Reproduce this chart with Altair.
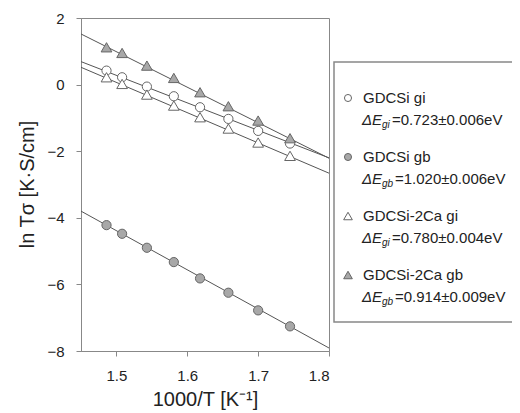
import altair as alt
import pandas as pd

# ---- data ----
x_vals = [1.486, 1.508, 1.543, 1.581, 1.618, 1.658, 1.700, 1.745]
gdcsi_gi = [0.42, 0.22, -0.06, -0.35, -0.68, -1.03, -1.39, -1.77]
gdcsi_gb = [-4.22, -4.48, -4.90, -5.33, -5.82, -6.25, -6.78, -7.26]
ca_gi = [0.22, 0.02, -0.30, -0.63, -0.98, -1.32, -1.74, -2.14]
ca_gb = [1.12, 0.95, 0.57, 0.20, -0.23, -0.65, -1.08, -1.61]

fit_x = [1.45, 1.80]
fit_gdcsi_gi = [0.69, -2.20]
fit_gdcsi_gb = [-3.80, -7.91]
fit_ca_gi = [0.52, -2.66]
fit_ca_gb = [1.52, -2.21]

series_names = ["GDCSi gi", "GDCSi gb", "GDCSi-2Ca gi", "GDCSi-2Ca gb"]
subscripts = ["gi", "gb", "gi", "gb"]
energies = ["=0.723\u00b10.006eV", "=1.020\u00b10.006eV", "=0.780\u00b10.004eV", "=0.914\u00b10.009eV"]
shapes = ["circle", "circle", "triangle-up", "triangle-up"]
fills = ["white", "#a8a8a8", "white", "#a8a8a8"]

x_ticks = [1.5, 1.6, 1.7, 1.8]
y_ticks = [-8, -6, -4, -2, 0, 2]

pts_series = [gdcsi_gi, gdcsi_gb, ca_gi, ca_gb]
fit_series = [fit_gdcsi_gi, fit_gdcsi_gb, fit_ca_gi, fit_ca_gb]

pts = pd.DataFrame([
    {"x": xv, "y": yv, "s": name}
    for name, ys in zip(series_names, pts_series) for xv, yv in zip(x_vals, ys)
])
fits = pd.DataFrame([
    {"x": xv, "y": yv, "s": name}
    for name, ys in zip(series_names, fit_series) for xv, yv in zip(fit_x, ys)
])

FONT = "Liberation Sans"
X = alt.X("x:Q", scale=alt.Scale(domain=[1.45, 1.8], nice=False, zero=False),
          axis=alt.Axis(values=x_ticks, format=".1f", title="1000/T [K\u207b\u00b9]",
                        titleY=48, titleBaseline="middle"))
Y = alt.Y("y:Q", scale=alt.Scale(domain=[-8, 2], nice=False, zero=False),
          axis=alt.Axis(values=y_ticks, title="ln T\u03c3 [K\u00b7S/cm]",
                        titleX=-54, titleY=166, titleBaseline="middle", titleAlign="center"))

lines = alt.Chart(fits).mark_line(color="#555", strokeWidth=1).encode(
    x=X, y=Y, detail="s:N")

layers = [lines]
for name, shp, fl in zip(series_names, shapes, fills):
    sz = 85 if shp == "circle" else 115
    layers.append(
        alt.Chart(pts[pts.s == name]).mark_point(
            shape=shp, filled=True, fill=fl, stroke="#666", strokeWidth=1, size=sz, opacity=1
        ).encode(x="x:Q", y="y:Q")
    )

# ---- legend box (pixel layout relative to plot origin) ----
one = pd.DataFrame({"k": [0]})
layers.append(alt.Chart(one).mark_rect(fill="white", stroke="#888", strokeWidth=1.5).encode(
    x=alt.value(253), x2=alt.value(460), y=alt.value(44), y2=alt.value(304)))

y0, step = 80, 59
for i, (name, sub, en, shp, fl) in enumerate(zip(series_names, subscripts, energies, shapes, fills)):
    yy = y0 + i * step
    layers.append(alt.Chart(one).mark_point(
        shape=shp, filled=True, fill=fl, stroke="#666", strokeWidth=1,
        size=50 if shp == "circle" else 75, opacity=1).encode(
        x=alt.value(267), y=alt.value(yy)))
    layers.append(alt.Chart(one).mark_text(
        align="left", baseline="middle", font=FONT, fontSize=15, color="#222").encode(
        x=alt.value(282), y=alt.value(yy), text=alt.value(name)))
    y2 = yy + 22
    layers.append(alt.Chart(one).mark_text(
        align="left", baseline="middle", font=FONT, fontSize=15, fontStyle="italic", color="#222").encode(
        x=alt.value(281), y=alt.value(y2), text=alt.value("\u0394E")))
    layers.append(alt.Chart(one).mark_text(
        align="left", baseline="middle", font=FONT, fontSize=10, fontStyle="italic", color="#222").encode(
        x=alt.value(301), y=alt.value(y2 + 5), text=alt.value(sub)))
    layers.append(alt.Chart(one).mark_text(
        align="left", baseline="middle", font=FONT, fontSize=15, color="#222").encode(
        x=alt.value(311 if sub == "gi" else 314), y=alt.value(y2), text=alt.value(en)))

chart = alt.layer(*layers).properties(
    width=248, height=333,
    autosize=alt.AutoSizeParams(type="none"),
    padding={"left": 73, "top": 10, "right": 183, "bottom": 62},
).configure_view(stroke="#888", strokeWidth=1).configure_axis(
    grid=False, domainColor="#888", tickColor="#888", tickSize=5,
    labelFont=FONT, labelFontSize=15, labelColor="#222", labelPadding=12,
    titleFont=FONT, titleFontSize=20, titleFontWeight="normal", titleColor="#222",
)

chart.save("out.html", embed_options={"renderer": "svg", "actions": False})
